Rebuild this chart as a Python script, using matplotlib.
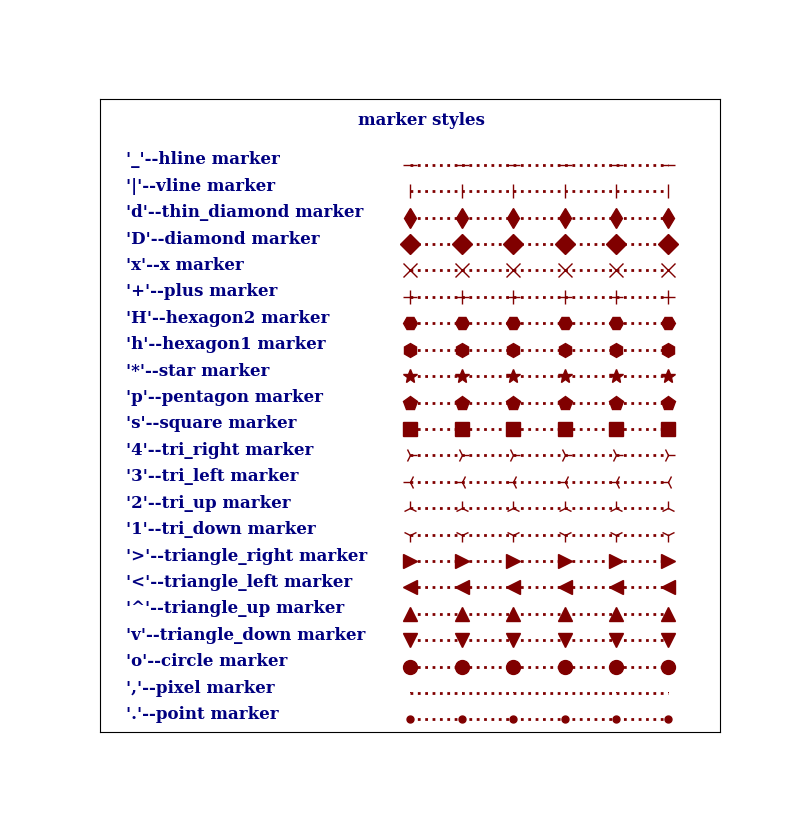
import numpy as np
import matplotlib.pyplot as plt

# marker codes and their names, top to bottom
markers = ['_', '|', 'd', 'D', 'x', '+', 'H', 'h', '*', 'p', 's', '4', '3', '2', '1',
           '>', '<', '^', 'v', 'o', ',', '.']
names = ['hline', 'vline', 'thin_diamond', 'diamond', 'x', 'plus', 'hexagon2', 'hexagon1',
         'star', 'pentagon', 'square', 'tri_right', 'tri_left', 'tri_up', 'tri_down',
         'triangle_right', 'triangle_left', 'triangle_up', 'triangle_down', 'circle',
         'pixel', 'point']
xs = [0, 1, 2, 3, 4, 5]

fig = plt.figure(figsize=(8, 8.23), dpi=100)
ax = fig.add_axes([0.125, 0.11, 0.775, 0.77])
ax.set_xticks([])
ax.set_yticks([])

n = len(markers)
ys = np.linspace(0.8957, 0.0205, n)
# map xs onto axes fraction 0.5..0.916
xf = 0.5 + np.array(xs) / 5 * 0.416

for i, (m, nm) in enumerate(zip(markers, names)):
    ax.text(0.042, ys[i] + 0.0079, "'%s'--%s marker" % (m, nm), transform=ax.transAxes,
            va='center', ha='left', fontsize=12, fontweight='bold',
            family='DejaVu Serif', color='navy')
    ax.plot(xf, [ys[i]] * len(xs), linestyle=':', linewidth=2, marker=m,
            markersize=10, color='maroon')

ax.text(0.518, 0.966, 'marker styles', transform=ax.transAxes, ha='center', va='center',
        fontsize=12, fontweight='bold', family='DejaVu Serif', color='navy')
ax.set_xlim(0, 1)
ax.set_ylim(0, 1)

plt.savefig('out.png')
